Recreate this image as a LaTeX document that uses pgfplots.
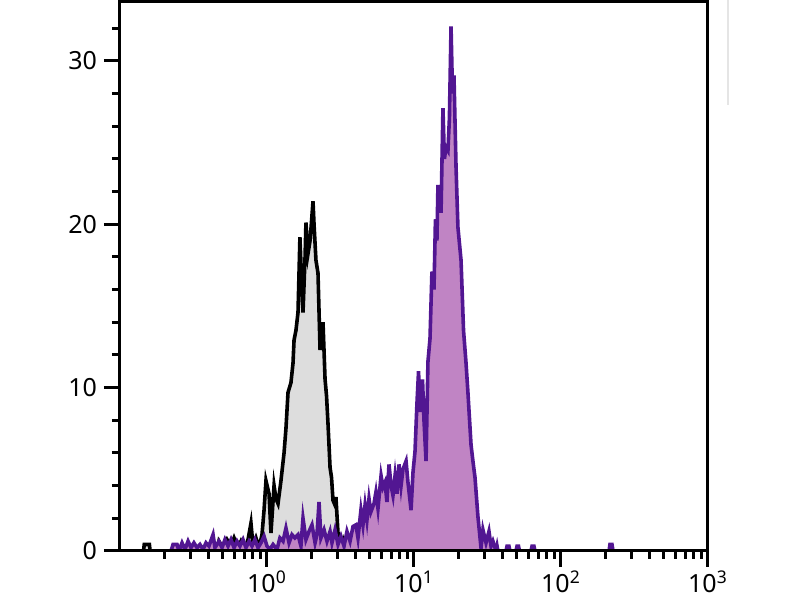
\documentclass[border=0pt]{standalone}
\usepackage{pgfplots}
\pgfplotsset{compat=1.18}
\usepackage{fontspec}
\setmainfont{Noto Sans}
\definecolor{greyfill}{RGB}{221,221,221}
\definecolor{purpfill}{RGB}{192,132,196}
\definecolor{purpline}{RGB}{82,22,146}
\begin{document}
\begin{tikzpicture}
\path[use as bounding box] (0pt,0pt) rectangle (400pt,300pt);
\draw[black!10, line width=0.6pt] (364pt,300pt) -- (364pt,247.5pt);
\begin{axis}[
  at={(60pt,24.5pt)}, anchor=south west,
  scale only axis, width=294pt, height=274.5pt,
  xmin=-1, xmax=3, ymin=0, ymax=33.6,
  axis on top,
  axis line style={line width=1.5pt},
  every tick/.style={line width=1.5pt, black},
  tick align=outside, xtick pos=left, ytick pos=left,
  major tick length=8pt, minor tick length=4pt,
  xtick={0,1,2,3},
  xticklabels={10\textsuperscript{0},10\textsuperscript{1},10\textsuperscript{2},10\textsuperscript{3}},
  minor xtick={-0.699,-0.523,-0.398,-0.301,-0.222,-0.155,-0.097,-0.046,
               0.301,0.477,0.602,0.699,0.778,0.845,0.903,0.954,
               1.301,1.477,1.602,1.699,1.778,1.845,1.903,1.954,
               2.301,2.477,2.602,2.699,2.778,2.845,2.903,2.954},
  ytick={0,10,20,30},
  minor ytick={2,4,6,8,12,14,16,18,22,24,26,28,32},
  ticklabel style={font=\fontsize{12.5}{15}\selectfont},
  xticklabel style={yshift=1.5pt},
  /pgf/number format/assume math mode=true,
]
\addplot[fill=greyfill, draw=black, line width=1.8pt, line join=miter] coordinates {
(-1,0) (-0.84,0) (-0.835,0.4) (-0.80,0.4) (-0.795,0) (-0.34,0)
(-0.327,0.6) (-0.299,0.2) (-0.272,0.7) (-0.245,0.3) (-0.224,0.8) (-0.197,0.2)
(-0.177,0.6) (-0.150,0.1) (-0.129,0.7) (-0.109,1.7) (-0.095,0.3) (-0.075,0.8)
(-0.054,0.2) (-0.034,1.0) (-0.020,2.5) (-0.007,4.3) (0.014,3.5) (0.027,1.1)
(0.048,4.0) (0.061,3.2) (0.075,2.9) (0.095,4.3) (0.116,6.0) (0.129,7.5)
(0.143,9.7) (0.163,10.3) (0.177,11.5) (0.184,12.9) (0.197,13.5) (0.211,14.6)
(0.224,19.2) (0.238,16.0) (0.245,14.6) (0.259,18.0) (0.265,20.1) (0.279,18.2)
(0.293,19.0) (0.299,19.7) (0.313,21.4) (0.320,20.0) (0.333,17.8) (0.347,17.0)
(0.361,12.3) (0.371,13.0) (0.381,14.0) (0.395,10.5) (0.405,9.5) (0.415,7.8)
(0.429,5.1) (0.439,4.5) (0.449,3.1) (0.463,2.8) (0.469,3.3) (0.483,1.1)
(0.503,0.2) (0.517,0.6) (0.531,0) (3,0)
} \closedcycle;
\addplot[fill=purpfill, draw=purpline, line width=1.8pt, line join=miter] coordinates {
(-1,0) (-0.653,0) (-0.639,0.4) (-0.612,0.4) (-0.599,0) (-0.578,0.5) (-0.558,0.1)
(-0.537,0.6) (-0.517,0.2) (-0.497,0.5) (-0.476,0.2) (-0.456,0.4) (-0.435,0.1)
(-0.415,0.5) (-0.395,0.3) (-0.367,1.0) (-0.354,0.2) (-0.327,0.6) (-0.306,0.2)
(-0.286,0.7) (-0.265,0.3) (-0.245,0.7) (-0.224,0.2) (-0.204,0.6) (-0.184,0.3)
(-0.163,0.7) (-0.143,0.2) (-0.122,0.6) (-0.102,0.3) (-0.082,0.7) (-0.061,0.2)
(-0.041,0.5) (-0.020,0.9) (0,0.3) (0.020,0.1) (0.041,0.4) (0.068,0.1)
(0.088,0.8) (0.109,0.6) (0.129,1.4) (0.150,0.5) (0.170,1.0) (0.190,0.8)
(0.211,1.0) (0.231,0.3) (0.245,2.0) (0.265,0.7) (0.286,1.2) (0.306,1.6)
(0.327,0.5) (0.340,1.0) (0.354,3.0) (0.367,0.8) (0.388,1.3) (0.408,0.6)
(0.429,1.2) (0.442,0.5) (0.463,1.3) (0.483,0.4) (0.503,0.9) (0.524,0.3)
(0.544,1.2) (0.565,0.6) (0.585,1.5) (0.605,1.6) (0.619,0.8) (0.639,2.5)
(0.653,1.6) (0.667,2.8) (0.680,1.9) (0.694,3.2) (0.707,2.4) (0.728,2.9)
(0.741,3.6) (0.755,2.6) (0.776,4.6) (0.789,3.9) (0.803,4.2) (0.816,3.0)
(0.830,5.3) (0.844,4.0) (0.857,3.4) (0.871,4.6) (0.884,3.5) (0.898,5.3)
(0.912,4.0) (0.925,5.0) (0.946,5.5) (0.959,4.2) (0.980,2.5) (0.993,4.8)
(1.007,6.1) (1.020,9.0) (1.031,11.0) (1.041,8.5) (1.058,10.5) (1.068,8.0)
(1.082,5.5) (1.095,11.6) (1.109,13.0) (1.122,17.1) (1.136,16.0) (1.146,20.3)
(1.156,19.0) (1.163,22.4) (1.177,21.5) (1.184,20.7) (1.197,27.1) (1.207,24.0)
(1.218,24.7) (1.231,24.5) (1.241,26.5) (1.252,32.1) (1.262,28.0) (1.272,29.1)
(1.286,23.5) (1.299,19.8) (1.320,17.8) (1.337,13.5) (1.354,11.5) (1.367,9.7)
(1.388,6.5) (1.401,5.5) (1.415,4.5) (1.435,2.1) (1.456,0.2) (1.469,1.3)
(1.490,0.5) (1.510,1.2) (1.524,0.3) (1.537,0.6) (1.551,0.2) (1.558,0)
(1.565,0.3) (1.571,0) (1.626,0) (1.633,0.3) (1.646,0.3) (1.653,0)
(1.694,0) (1.701,0.3) (1.711,0.3) (1.718,0) (1.796,0) (1.803,0.3) (1.816,0.3) (1.823,0)
(2.327,0) (2.333,0.4) (2.347,0.4) (2.354,0) (3,0)
} \closedcycle;
\end{axis}
\end{tikzpicture}
\end{document}
